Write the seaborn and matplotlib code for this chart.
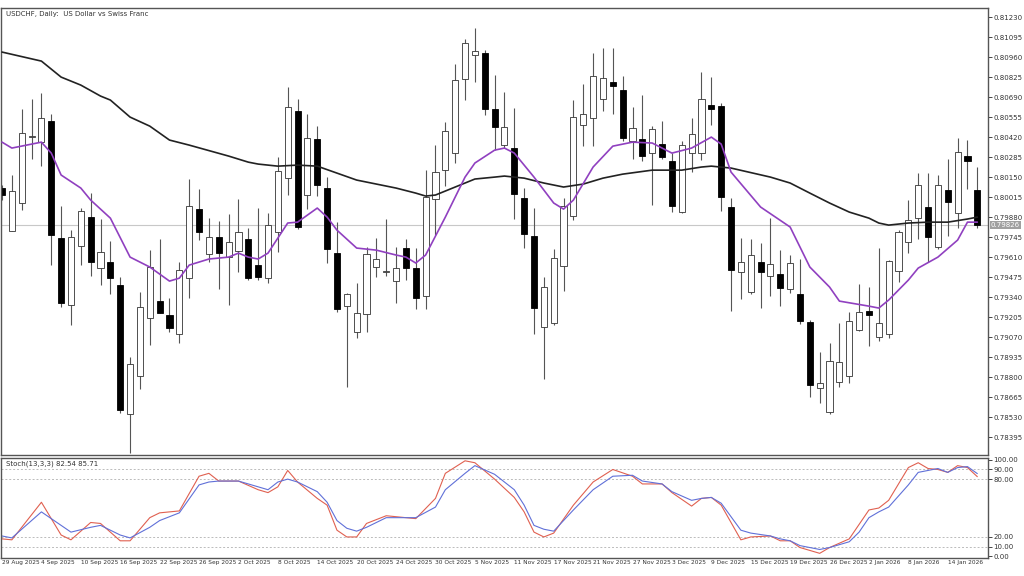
import matplotlib
matplotlib.use("Agg")
import matplotlib.pyplot as plt
import seaborn as sns
import numpy as np
import pandas as pd

sns.set_style("white")
plt.rcParams['font.family'] = ['DejaVu Sans']

opens = [0.80076,0.79786,0.79975,0.80420,0.80386,0.80528,0.79738,0.79286,0.79684,0.79880,
         0.79536,0.79576,0.79421,0.78550,0.78807,0.79198,0.79313,0.79219,0.79090,0.79468,
         0.79934,0.79630,0.79745,0.79610,0.79651,0.79732,0.79556,0.79468,0.79779,0.80143,
         0.80596,0.80029,0.80407,0.80076,0.79637,0.79279,0.79104,0.79225,0.79543,0.79509,
         0.79448,0.79671,0.79536,0.79347,0.80002,0.80197,0.80312,0.80812,0.80974,0.80987,
         0.80609,0.80366,0.80346,0.80008,0.79752,0.79138,0.79165,0.79549,0.79887,0.80501,
         0.80548,0.80677,0.80791,0.80737,0.80393,0.80407,0.80312,0.80373,0.80258,0.79914,
         0.80312,0.80312,0.80636,0.80629,0.79948,0.79509,0.79374,0.79576,0.79482,0.79495,
         0.79394,0.79360,0.79171,0.78726,0.78564,0.78766,0.78807,0.79117,0.79246,0.79070,
         0.79090,0.79516,0.79711,0.79873,0.79948,0.79678,0.80062,0.79907,0.80292,0.80062]
highs = [0.80096,0.80164,0.80609,0.80677,0.80717,0.80575,0.79954,0.79792,0.79941,0.80042,
         0.79867,0.79718,0.79475,0.78935,0.79374,0.79657,0.79732,0.79333,0.79576,0.80137,
         0.80069,0.79873,0.79853,0.79900,0.80002,0.79806,0.79941,0.79907,0.80285,0.80758,
         0.80677,0.80575,0.80494,0.80150,0.79846,0.79370,0.79435,0.79678,0.79738,0.79867,
         0.79678,0.79732,0.79671,0.80197,0.80366,0.80521,0.80913,0.81082,0.81156,0.81007,
         0.80839,0.80724,0.80616,0.80076,0.79941,0.79475,0.79664,0.80008,0.80670,0.80778,
         0.80987,0.81021,0.81021,0.80832,0.80623,0.80704,0.80494,0.80528,0.80312,0.80393,
         0.80548,0.80859,0.80825,0.80650,0.80008,0.79738,0.79732,0.79705,0.79873,0.79657,
         0.79624,0.79597,0.79185,0.78969,0.79030,0.79165,0.79239,0.79428,0.79408,0.79671,
         0.79590,0.79792,0.79995,0.80177,0.80177,0.80164,0.80272,0.80413,0.80400,0.80218]
lows = [0.79995,0.79786,0.79927,0.80272,0.80224,0.79556,0.79273,0.79151,0.79556,0.79482,
        0.79421,0.79360,0.78557,0.78287,0.78719,0.79016,0.79232,0.79104,0.79030,0.79333,
        0.79725,0.79576,0.79394,0.79286,0.79509,0.79455,0.79455,0.79435,0.79644,0.80029,
        0.79800,0.79934,0.80022,0.79570,0.79239,0.78733,0.79063,0.79104,0.79475,0.79482,
        0.79300,0.79455,0.79259,0.79259,0.79759,0.80089,0.80245,0.80670,0.80791,0.80569,
        0.80332,0.80346,0.79867,0.79671,0.79090,0.78787,0.79150,0.79381,0.79860,0.80359,
        0.80359,0.80596,0.80575,0.80393,0.80272,0.80258,0.79961,0.80275,0.79914,0.79907,
        0.80184,0.80265,0.80501,0.79921,0.79246,0.79327,0.79360,0.79266,0.79347,0.79279,
        0.79367,0.79158,0.78665,0.78625,0.78550,0.78733,0.78760,0.79111,0.79009,0.79043,
        0.79063,0.79441,0.79637,0.79732,0.79576,0.79665,0.79752,0.79806,0.80069,0.79806]
closes = [0.80029,0.80056,0.80447,0.80425,0.80548,0.79759,0.79300,0.79745,0.79921,0.79576,
          0.79644,0.79468,0.78577,0.78888,0.79273,0.79543,0.79232,0.79131,0.79522,0.79954,
          0.79779,0.79745,0.79637,0.79711,0.79779,0.79468,0.79475,0.79826,0.80191,0.80623,
          0.79813,0.80413,0.80096,0.79664,0.79259,0.79360,0.79232,0.79630,0.79597,0.79515,
          0.79536,0.79536,0.79333,0.80015,0.80184,0.80461,0.80805,0.81055,0.81001,0.80609,
          0.80488,0.80488,0.80035,0.79765,0.79266,0.79408,0.79603,0.79954,0.80555,0.80575,
          0.80832,0.80818,0.80764,0.80413,0.80481,0.80292,0.80474,0.80285,0.79954,0.80366,
          0.80440,0.80677,0.80609,0.80015,0.79522,0.79576,0.79624,0.79509,0.79563,0.79401,
          0.79570,0.79178,0.78746,0.78760,0.78908,0.78901,0.79178,0.79239,0.79219,0.79165,
          0.79583,0.79779,0.79860,0.80096,0.79745,0.80096,0.79981,0.80319,0.80258,0.79826]

ma_fast_idx = [0,1,4,5,6,8,9,11,13,15,17,18,19,21,23,24,25,26,27,29,30,32,33,34,36,38,40,41,42,43,
               45,47,48,50,51,52,54,56,57,58,60,62,64,66,68,70,72,73,74,77,80,82,84,85,88,89,90,92,93,95,97,98,99]
ma_fast = [0.80386,0.80346,0.80386,0.80312,0.80164,0.80076,0.79995,0.79873,0.79610,0.79543,0.79448,0.79468,
           0.79556,0.79597,0.79610,0.79637,0.79610,0.79597,0.79637,0.79840,0.79846,0.79941,0.79880,0.79792,
           0.79671,0.79657,0.79624,0.79610,0.79570,0.79624,0.79880,0.80150,0.80245,0.80332,0.80346,0.80312,
           0.80150,0.79975,0.79934,0.79995,0.80218,0.80359,0.80386,0.80380,0.80312,0.80346,0.80420,0.80373,
           0.80184,0.79948,0.79813,0.79543,0.79408,0.79313,0.79279,0.79266,0.79320,0.79455,0.79536,0.79610,
           0.79725,0.79846,0.79846]
ma_slow_idx = [0,4,6,8,10,11,13,15,17,19,23,25,26,28,30,32,34,36,38,40,42,43,44,46,48,50,51,53,55,57,
               59,61,63,66,69,71,72,74,78,80,82,84,86,88,89,90,92,94,96,98,99]
ma_slow = [0.80994,0.80933,0.80825,0.80771,0.80697,0.80670,0.80555,0.80494,0.80400,0.80366,0.80292,0.80251,
           0.80238,0.80224,0.80231,0.80224,0.80177,0.80130,0.80103,0.80076,0.80042,0.80022,0.80029,0.80083,
           0.80137,0.80150,0.80157,0.80143,0.80110,0.80083,0.80103,0.80143,0.80170,0.80197,0.80197,0.80218,
           0.80224,0.80211,0.80150,0.80110,0.80042,0.79975,0.79914,0.79873,0.79840,0.79826,0.79840,0.79846,
           0.79846,0.79867,0.79880]

stoch_idx = [0,1,4,6,7,9,10,12,13,15,16,18,20,21,22,24,26,27,28,29,30,32,33,34,35,36,37,39,42,44,45,47,48,
             50,52,53,54,55,56,58,60,62,64,65,67,68,70,71,72,73,75,76,78,79,80,81,83,84,86,87,88,89,90,92,93,94,95,96,97,98,99]
stoch_k = [18,17,56,22,17,35,34,16,16,40,45,47,83,86,78,78,69,66,72,89,77,60,53,27,20,20,34,42,39,60,86,99,97,
           80,61,46,25,20,24,53,77,90,83,75,75,66,52,60,61,53,17,20,21,16,16,9,3,9,18,33,48,50,58,92,97,91,90,87,94,92,82.54]
stoch_d = [21,19,46,32,25,30,32,22,19,30,37,45,74,77,78,78,72,69,77,80,77,67,56,37,29,26,30,40,40,51,69,86,94,
           85,69,53,32,28,26,48,69,83,84,78,75,67,58,60,61,55,27,24,21,18,16,11,7,9,15,25,40,46,51,74,87,89,91,87,92,93,85.71]

date_labels = ["29 Aug 2025","4 Sep 2025","10 Sep 2025","16 Sep 2025","22 Sep 2025","26 Sep 2025",
               "2 Oct 2025","8 Oct 2025","14 Oct 2025","20 Oct 2025","24 Oct 2025","30 Oct 2025",
               "5 Nov 2025","11 Nov 2025","17 Nov 2025","21 Nov 2025","27 Nov 2025","3 Dec 2025",
               "9 Dec 2025","15 Dec 2025","19 Dec 2025","26 Dec 2025","2 Jan 2026","8 Jan 2026","14 Jan 2026"]
price_ticks = [0.81230,0.81095,0.80960,0.80825,0.80690,0.80555,0.80420,0.80285,0.80150,0.80015,0.79880,
               0.79745,0.79610,0.79475,0.79340,0.79205,0.79070,0.78935,0.78800,0.78665,0.78530,0.78395]
stoch_ticks = [0,10,20,80,90,100]

fig = plt.figure(figsize=(10.24, 5.76), dpi=100)
ax = fig.add_axes([0.001, 0.21, 0.964, 0.776])
ax2 = fig.add_axes([0.001, 0.031, 0.964, 0.174])

n = len(opens)
idx = np.arange(n)
o = np.array(opens); c = np.array(closes); h = np.array(highs); l = np.array(lows)
up = c >= o
ax.vlines(idx, l, h, color="#555555", lw=0.8, zorder=1)
ax.bar(idx[up], (c - o)[up], bottom=o[up], width=0.62, color="white", edgecolor="#333333", lw=0.6, zorder=2)
ax.bar(idx[~up], (o - c)[~up], bottom=c[~up], width=0.62, color="black", edgecolor="black", lw=0.6, zorder=2)

sns.lineplot(x=ma_slow_idx, y=ma_slow, ax=ax, color="#222222", lw=1.2, zorder=3)
sns.lineplot(x=ma_fast_idx, y=ma_fast, ax=ax, color="#9040c0", lw=1.2, zorder=3)
ax.axhline(closes[-1], color="#c8c8c8", lw=0.8, zorder=0)

ax.set_xlim(-0.1, 100.1)
ax.set_ylim(0.78274, 0.81291)
ax.yaxis.tick_right()
ax.set_yticks(price_ticks)
ax.set_yticklabels([f"{v:.5f}" for v in price_ticks], fontsize=5, color="#333333")
ax.tick_params(axis="y", length=3, width=0.6, pad=1)
ax.set_xticks([])
ax.annotate(f"{closes[-1]:.5f}", xy=(1.0, closes[-1]), xycoords=("axes fraction", "data"),
            xytext=(2, 0), textcoords="offset points", fontsize=5, color="white", va="center",
            bbox=dict(boxstyle="square,pad=0.15", fc="#a0a0a0", ec="none"))
ax.text(0.005, 0.993, "USDCHF, Daily:  US Dollar vs Swiss Franc", transform=ax.transAxes,
        fontsize=5, color="#333333", va="top")

for lev in [10, 20, 80, 90]:
    ax2.axhline(lev, color="#bbbbbb", lw=0.7, ls=(0, (2, 2)), zorder=0)
sns.lineplot(x=stoch_idx, y=stoch_k, ax=ax2, color="#e06050", lw=0.8)
sns.lineplot(x=stoch_idx, y=stoch_d, ax=ax2, color="#6070d8", lw=0.8)
ax2.set_xlim(-0.1, 100.1)
ax2.set_ylim(-2, 102)
ax2.yaxis.tick_right()
ax2.set_yticks(stoch_ticks)
ax2.set_yticklabels([f"{v:.2f}" for v in stoch_ticks], fontsize=5, color="#333333")
ax2.tick_params(axis="y", length=3, width=0.6, pad=1)
ax2.set_xticks(np.arange(0, 100, 4))
ax2.set_xticklabels(date_labels, fontsize=4.2, color="#333333", ha="left")
ax2.tick_params(axis="x", length=3, width=0.6, pad=1, direction="in")
ax2.text(0.005, 0.97, f"Stoch(13,3,3) {stoch_k[-1]:.2f} {stoch_d[-1]:.2f}", transform=ax2.transAxes,
         fontsize=5, color="#333333", va="top")

for a in (ax, ax2):
    for s in a.spines.values():
        s.set_color("#555555"); s.set_linewidth(1.0)
    a.set_xlabel(""); a.set_ylabel("")

fig.savefig("out.png", dpi=100, facecolor="white")
